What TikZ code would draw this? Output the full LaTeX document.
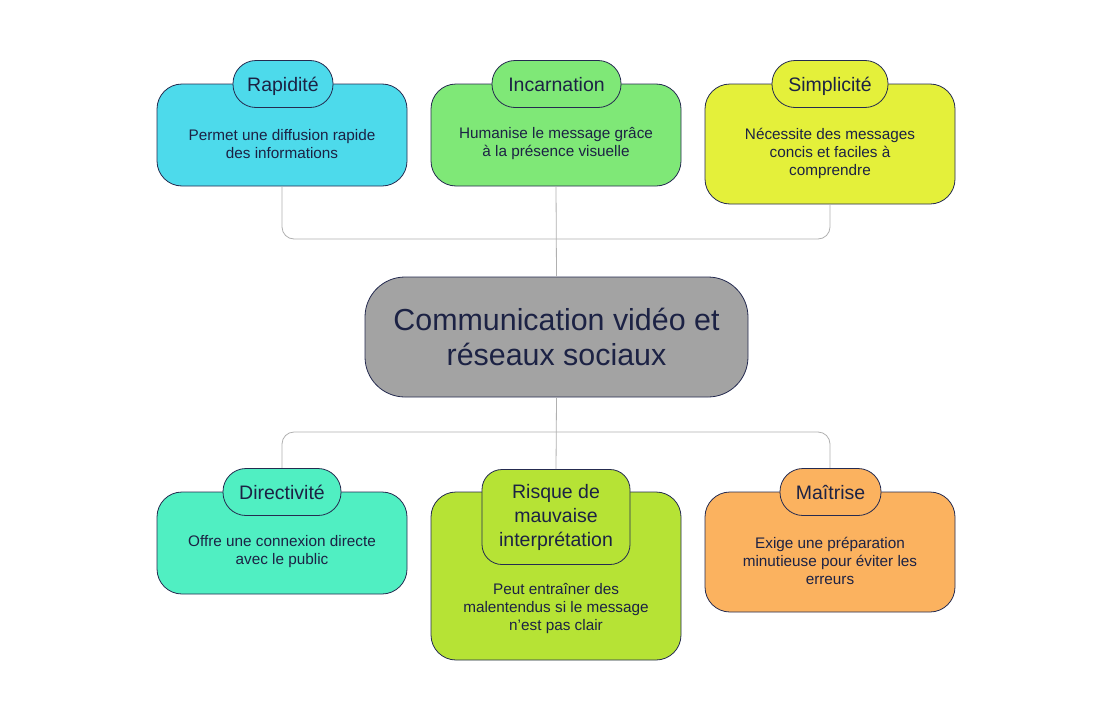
\documentclass[tikz,border=0pt]{standalone}
\usepackage{fontspec}
\setmainfont{Liberation Sans}
\definecolor{edge}{HTML}{252B50}
\definecolor{ink}{HTML}{1C2244}
\definecolor{conn}{HTML}{B0B0B0}
\definecolor{cRap}{HTML}{4DDAEB}
\definecolor{cInc}{HTML}{7FE877}
\definecolor{cSim}{HTML}{E4F03A}
\definecolor{cCen}{HTML}{A3A3A3}
\definecolor{cDir}{HTML}{50EFC2}
\definecolor{cRis}{HTML}{B6E335}
\definecolor{cMai}{HTML}{FBB25F}
\begin{document}
\begin{tikzpicture}[x=1pt,y=-1pt,
  card/.style={draw=edge, line width=0.8pt, rounded corners=25pt, minimum width=250pt, inner sep=0pt},
  tab/.style={draw=edge, line width=0.8pt, rounded corners=23pt, minimum height=47pt, inner sep=0pt, text=ink, font=\fontsize{19.5}{23}\selectfont},
  tabtext/.style={text=ink, inner sep=0pt, font=\fontsize{19.5}{23}\selectfont},
  body/.style={text=ink, align=center, font=\fontsize{15.3}{18}\selectfont, inner sep=0pt},
  link/.style={draw=conn, line width=0.8pt, rounded corners=12pt}]
\useasboundingbox (0,0) rectangle (1113,720);
\fill[white] (0,0) rectangle (1113,720);
% links
\coordinate (jt) at (556,239);
\coordinate (jb) at (556,432);
% cards
\node[card, fill=cRap, minimum height=102pt] (rap) at (282,135) {};
\node[card, fill=cInc, minimum height=102pt] (inc) at (556,135) {};
\node[card, fill=cSim, minimum height=120pt] (sim) at (830,144) {};
\node[card, fill=cDir, minimum height=102pt] (dir) at (282,543) {};
\node[card, fill=cRis, minimum height=168pt] (ris) at (556,576) {};
\node[card, fill=cMai, minimum height=120pt] (mai) at (830,552) {};
\node[draw=edge, line width=0.8pt, fill=cCen, rounded corners=40pt, minimum width=383pt, minimum height=120pt, text=ink, align=center, font=\fontsize{30.4}{35}\selectfont, inner sep=0pt] (cen) at (556.5,337) {Communication vidéo et\\réseaux sociaux};
\draw[link] (rap.south) |- (jt) -| (sim.south);
\draw[link] (inc.south) -- (cen.north);
\draw[link] (dir.north |- 0,468) |- (jb) -| (mai.north |- 0,468);
% tabs
\node[tab, fill=cRap, minimum width=100pt] (raptab) at (283,84) {};
\node[tab, fill=cInc, minimum width=129pt] (inctab) at (556.5,84) {};
\node[tab, fill=cSim, minimum width=116pt] (simtab) at (830,84) {};
\node[tab, fill=cDir, minimum width=118pt] (dirtab) at (282,492) {};
\node[tab, fill=cRis, minimum width=148pt, minimum height=95pt, rounded corners=20pt, align=center, font=\fontsize{19.5}{24}\selectfont] (ristab) at (556,517) {Risque de\\mauvaise\\interprétation};
\node[tab, fill=cMai, minimum width=101pt] (maitab) at (830.5,492) {};
\node[tabtext, anchor=base] (raplbl) at (283,91) {Rapidité};
\node[tabtext, anchor=base] (inclbl) at (556.5,91) {Incarnation};
\node[tabtext, anchor=base] (simlbl) at (830,91) {Simplicité};
\node[tabtext, anchor=base] (dirlbl) at (282,499) {Directivité};
\node[tabtext, anchor=base] (mailbl) at (830.5,499) {Maîtrise};
\draw[link] (cen.south) -- (ristab.north);
% body texts
\node[body] (raptx) at (282,144) {Permet une diffusion rapide\\des informations};
\node[body] (inctx) at (556,144) {Humanise le message grâce\\à la présence visuelle};
\node[body] (simtx) at (830,153) {Nécessite des messages\\concis et faciles à\\comprendre};
\node[body] (dirtx) at (282,552) {Offre une connexion directe\\avec le public};
\node[body] (ristx) at (556,609) {Peut entraîner des\\malentendus si le message\\n\char"0027 est pas clair};
\node[body] (maitx) at (830,561) {Exige une préparation\\minutieuse pour éviter les\\erreurs};
\end{tikzpicture}
\end{document}
